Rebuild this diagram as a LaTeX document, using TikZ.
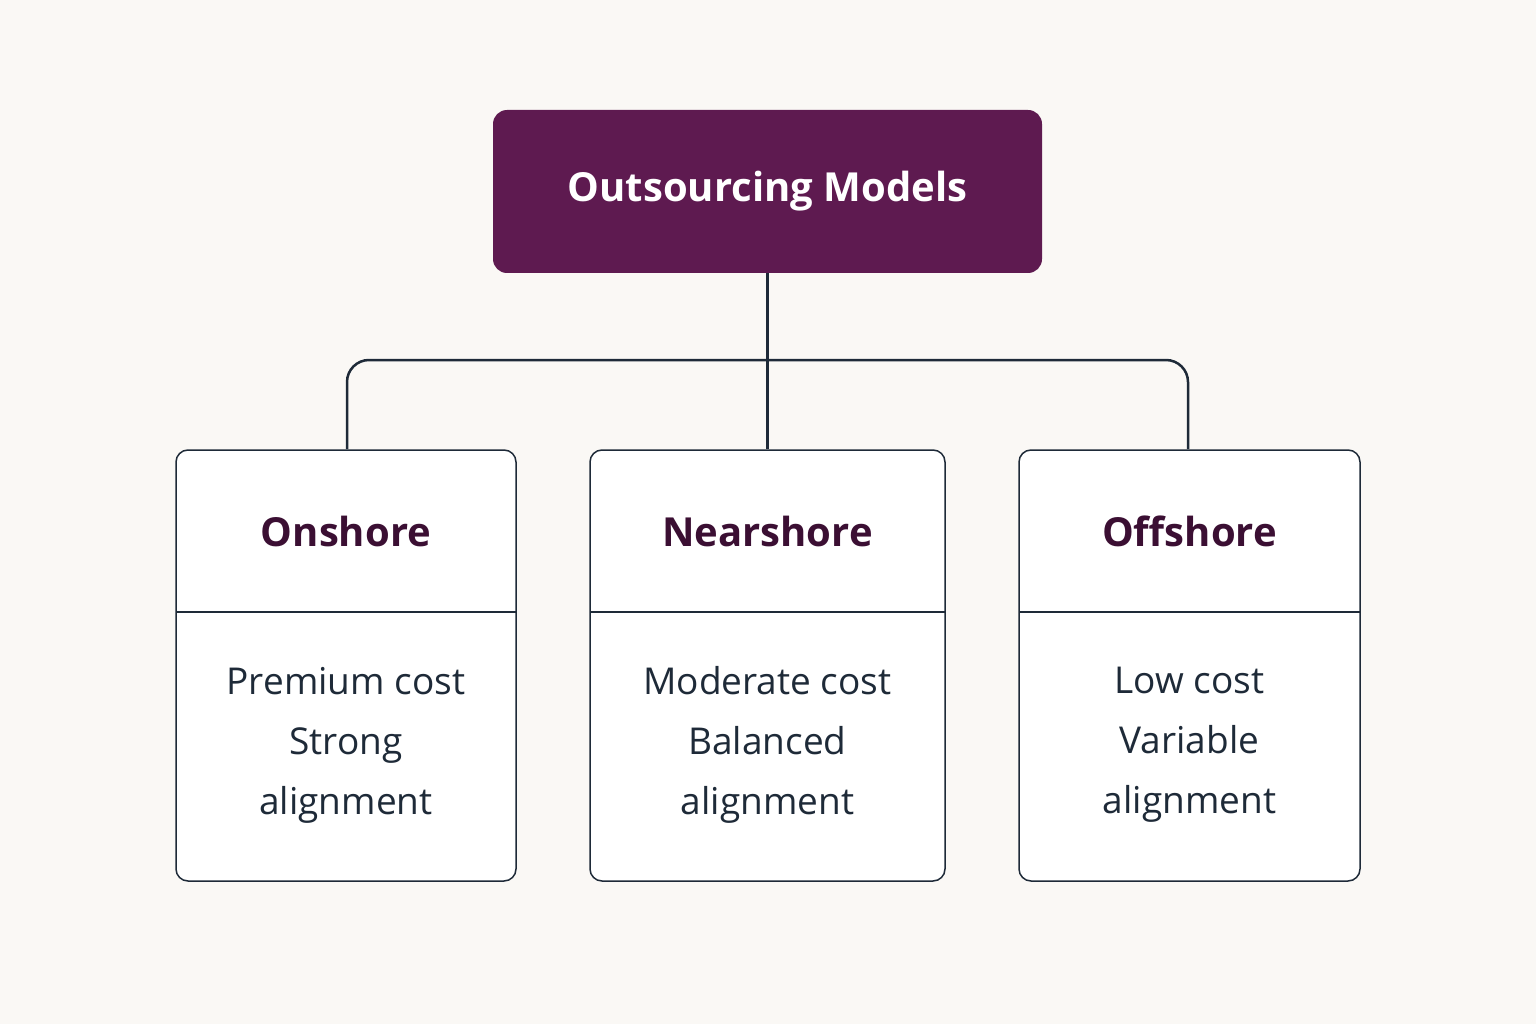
\documentclass[tikz,border=0pt]{standalone}
\usepackage{fontspec}
\setmainfont{Open Sans}
\definecolor{bg}{HTML}{FAF8F5}
\definecolor{plum}{HTML}{5E1A50}
\definecolor{dplum}{HTML}{3B0F33}
\definecolor{ink}{HTML}{1E2A38}
\tikzset{
 card/.style={draw=ink,line width=1.5pt,fill=white,rounded corners=12pt},
 conn/.style={draw=ink,line width=2.5pt,rounded corners=22pt},
 ttl/.style={text=dplum,font=\fontsize{40}{48}\selectfont\bfseries},
 body/.style={text=ink,align=center,font=\fontsize{37}{60}\selectfont}
}
\begin{document}
\begin{tikzpicture}[x=1pt,y=-1pt]
\fill[bg] (0,0) rectangle (1536,1024);
\useasboundingbox (0,0) rectangle (1536,1024);
\node[fill=plum,rounded corners=14pt,minimum width=549pt,minimum height=163pt,text=white,font=\fontsize{40}{48}\selectfont\bfseries] (top) at (767.5,191.5) {Outsourcing Models};
\foreach \n/\l/\r/\t/\a/\b/\c in {on/176/516/Onshore/Premium cost/Strong/alignment, near/590/945/Nearshore/Moderate cost/Balanced/alignment, off/1019/1360/Offshore/Low cost/Variable/alignment}{
 \draw[card] (\l,450) rectangle (\r,881);
 \draw[ink,line width=1.5pt] (\l,612) -- (\r,612);
 \coordinate (\n) at ({(\l+\r)/2},450);
 \node[ttl] at ({(\l+\r)/2},531) {\t};
 \node[body] at ({(\l+\r)/2},745) {\a\\\b\\\c};
}
\coordinate (mid) at (767.5,360);
\draw[conn] (top.south) -- (767.5,449);
\draw[conn] (347,449) -- (347,360) -- (1188,360) -- (1188,449);
\end{tikzpicture}
\end{document}
